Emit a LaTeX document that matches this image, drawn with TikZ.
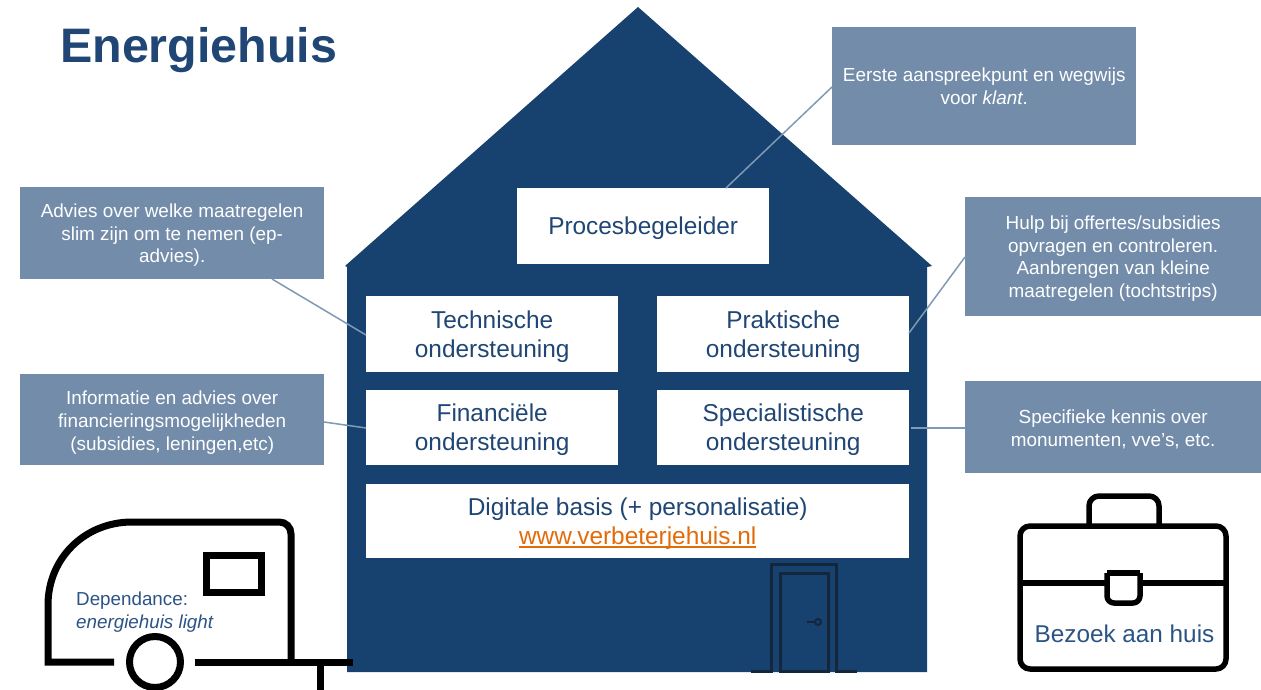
\documentclass[tikz,border=0pt]{standalone}
\usepackage{fontspec}
\setmainfont{Liberation Sans}
\definecolor{housecol}{HTML}{17416F}
\definecolor{callcol}{HTML}{728CAA}
\definecolor{linecol}{HTML}{8099B5}
\definecolor{textcol}{HTML}{1F4674}
\definecolor{icontextcol}{HTML}{2B5485}
\definecolor{urlcol}{HTML}{E36C0A}
\definecolor{doorcol}{HTML}{14263C}
\newcommand\urlline[1]{\setbox0\hbox{#1}\rlap{\rule[-3.6pt]{\wd0}{1.6pt}}\box0}
\tikzset{
  whitebox/.style={fill=white,draw=none,inner sep=0pt,anchor=north west},
  callout/.style={fill=callcol,draw=none,inner sep=0pt,anchor=north west},
  whitetext/.style={inner sep=0pt,align=center,text=textcol,font=\fontsize{24.4}{29}\selectfont},
  calltext/.style={inner sep=0pt,align=center,text=white,font=\fontsize{18.9}{22.8}\selectfont},
  conn/.style={draw=linecol,line width=1.5pt},
  icon/.style={draw=black,line width=7pt},
  brief/.style={draw=black,line width=5.5pt,line join=round},
  doorline/.style={draw=doorcol,line width=3pt},
  icontext/.style={inner sep=0pt,text=icontextcol,align=left}
}
\begin{document}
\begin{tikzpicture}[x=1pt,y=-1pt]
\useasboundingbox (0,0) rectangle (1261,690);
\fill[white] (0,0) rectangle (1261,690);
% title
\node[anchor=base west,inner sep=0pt,text=textcol,font=\fontsize{48.4}{50}\selectfont\bfseries] (title) at (60,63) {Energiehuis};
% house
\fill[housecol] (638,7) -- (932,266) -- (927,267) -- (927,672) -- (347,672) -- (347,267) -- (345,266) -- cycle;
% boxes
\node[whitebox,minimum width=252pt,minimum height=76pt,label={[whitetext,name=proct,yshift=-2pt]center:{Procesbegeleider}}] (proc) at (517,188) {};
\node[whitebox,minimum width=252pt,minimum height=76pt,label={[whitetext,name=techt,yshift=-2pt]center:{Technische\\ondersteuning}}] (tech) at (366,296) {};
\node[whitebox,minimum width=252pt,minimum height=76pt,label={[whitetext,name=prakt,yshift=-2pt]center:{Praktische\\ondersteuning}}] (prak) at (657,296) {};
\node[whitebox,minimum width=252pt,minimum height=75pt,label={[whitetext,name=fint,yshift=-2pt]center:{Financiële\\ondersteuning}}] (fin) at (366,390) {};
\node[whitebox,minimum width=252pt,minimum height=75pt,label={[whitetext,name=spect,yshift=-2pt]center:{Specialistische\\ondersteuning}}] (spec) at (657,390) {};
\node[whitebox,minimum width=543pt,minimum height=74pt,label={[whitetext,name=digt,yshift=-2pt]center:{Digitale basis (+ personalisatie)\\\color{urlcol}\urlline{www.verbeterjehuis.nl}}}] (dig) at (366,484) {};
% callouts
\node[callout,minimum width=304pt,minimum height=118pt,label={[calltext,name=c1t]center:{Eerste aanspreekpunt en wegwijs\\voor \textit{klant}.}}] (c1) at (832,27) {};
\node[callout,minimum width=296pt,minimum height=119pt,label={[calltext,name=c2t,yshift=-2pt]center:{Hulp bij offertes/subsidies\\opvragen en controleren.\\Aanbrengen van kleine\\maatregelen (tochtstrips)}}] (c2) at (965,197) {};
\node[callout,minimum width=296pt,minimum height=92pt,label={[calltext,name=c3t,yshift=-2pt]center:{Specifieke kennis over\\monumenten, vve's, etc.}}] (c3) at (965,381) {};
\node[callout,minimum width=304pt,minimum height=92pt,label={[calltext,name=c4t,yshift=-2pt]center:{Advies over welke maatregelen\\slim zijn om te nemen (ep-\\advies).}}] (c4) at (20,187) {};
\node[callout,minimum width=304pt,minimum height=91pt,label={[calltext,name=c5t,yshift=-3pt]center:{Informatie en advies over\\financieringsmogelijkheden\\(subsidies, leningen,etc)}}] (c5) at (20,374) {};
% connector ends
\coordinate (e1a) at (726,188); \coordinate (e1b) at (832,87);
\coordinate (e2a) at (909,333); \coordinate (e2b) at (965,257);
\coordinate (e3a) at (911,428); \coordinate (e3b) at (965,428);
\coordinate (e4a) at (272,279); \coordinate (e4b) at (366,335);
\coordinate (e5a) at (324,422); \coordinate (e5b) at (366,428);
\draw[conn] (e1a) -- (e1b);
\draw[conn] (e2a) -- (e2b);
\draw[conn] (e3a) -- (e3b);
\draw[conn] (e4a) -- (e4b);
\draw[conn] (e5a) -- (e5b);
% door
\draw[doorline] (751,671) -- (771,671) -- (771,564) -- (836,564) -- (836,671) -- (857,671);
\draw[doorline] (780,671) -- (780,573) -- (828,573) -- (828,671) -- cycle;
\draw[doorline,line width=2pt] (807,622) -- (815,622);
\draw[doorline,line width=2pt] (818,622) circle (3pt);
% caravan
\draw[icon] (114,662) -- (48,662) -- (48,605) .. controls (48,558) and (85,522) .. (132,522) -- (279,522) .. controls (286,522) and (291,527) .. (291,534) -- (291,662);
\draw[icon] (195,662) -- (353,662);
\draw[icon] (320,662) -- (320,690);
\draw[icon] (155,662) circle (25.5pt);
\draw[icon] (206.5,555.5) rectangle (261.5,592.5);
\node[icontext,anchor=west,font=\fontsize{18.8}{23}\selectfont] (dep) at (76,612) {Dependance:\\\textit{energiehuis light}};
% briefcase
\draw[brief,rounded corners=10pt] (1020,526) rectangle (1226,669);
\draw[brief,rounded corners=10pt] (1089,526) -- (1089,496) -- (1159,496) -- (1159,526);
\draw[brief] (1020,583) -- (1106,583);
\draw[brief] (1141,583) -- (1226,583);
\draw[brief,rounded corners=7pt] (1107,573) -- (1107,603) -- (1140,603) -- (1140,573);
\draw[brief] (1107,573) -- (1140,573);
\node[inner sep=0pt,text=icontextcol,font=\fontsize{24.3}{26}\selectfont] (bez) at (1124.5,634) {Bezoek aan huis};
\end{tikzpicture}
\end{document}
